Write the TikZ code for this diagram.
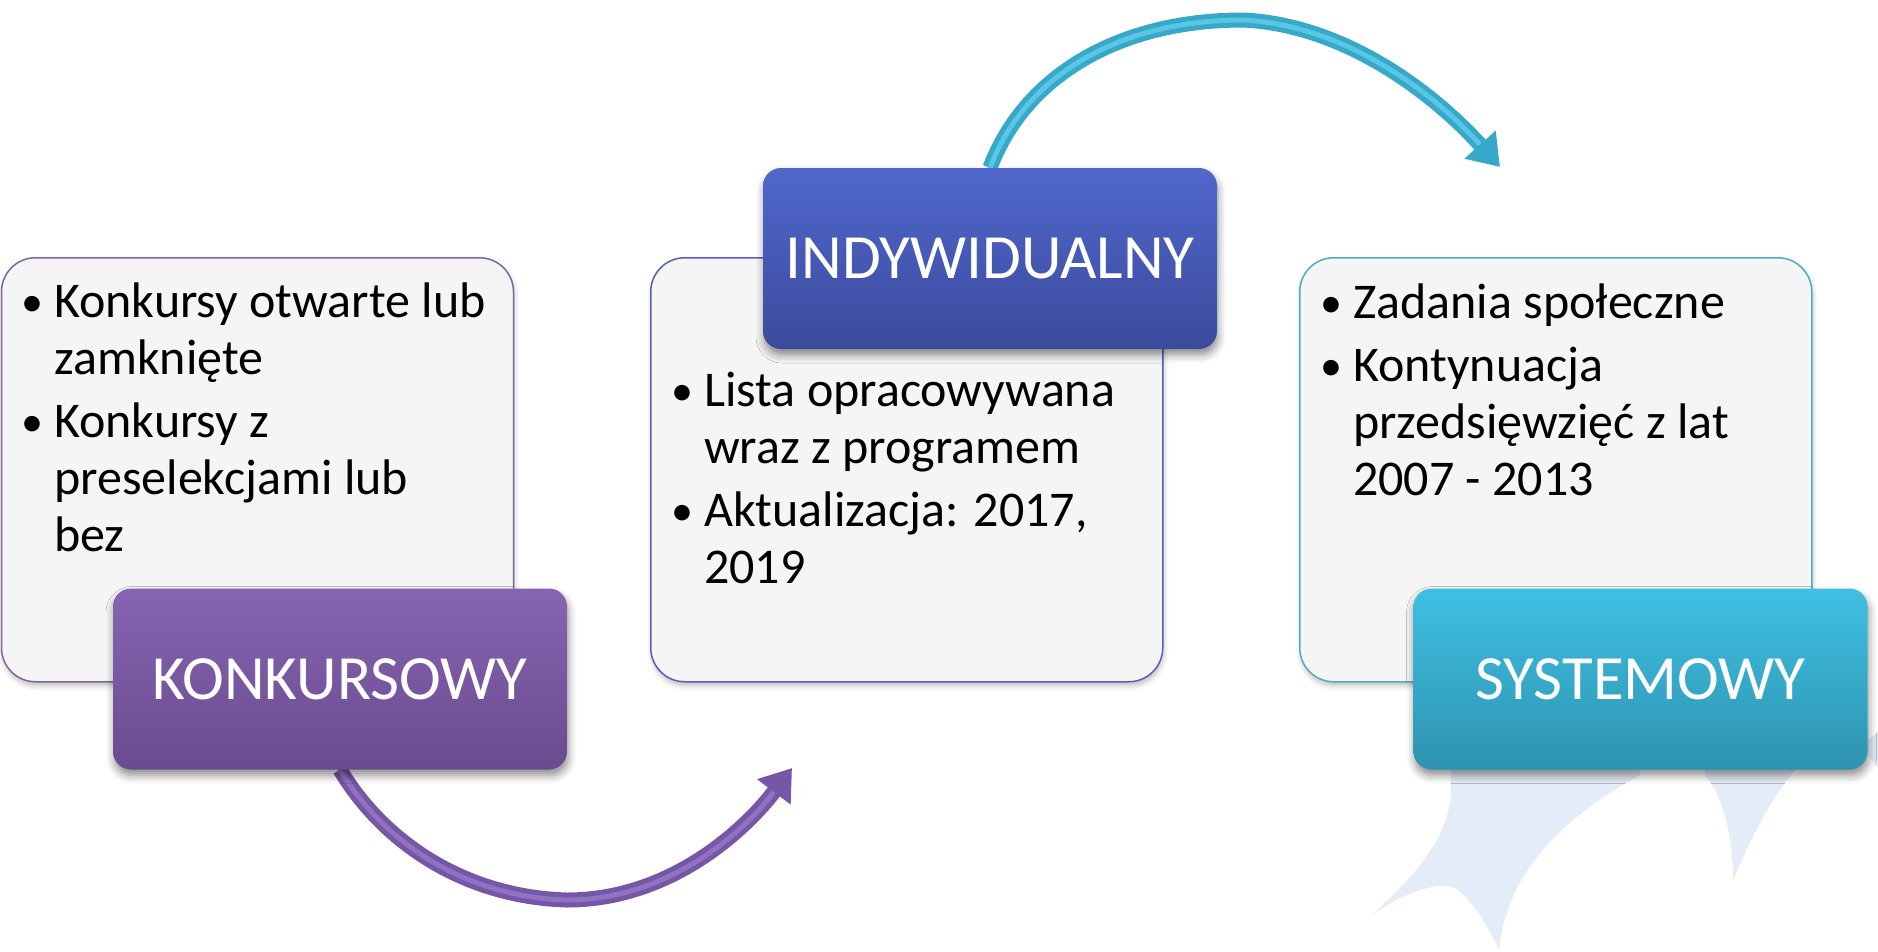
\documentclass[tikz,border=0pt]{standalone}
\usepackage{fontspec}
\setmainfont{Carlito}
\usetikzlibrary{arrows.meta,shadows.blur}

\definecolor{purpA}{HTML}{8764B3}
\definecolor{purpB}{HTML}{6A4B8E}
\definecolor{blueA}{HTML}{5067CC}
\definecolor{blueB}{HTML}{3B4A9B}
\definecolor{cyanA}{HTML}{3FC0E3}
\definecolor{cyanB}{HTML}{2E93B0}
\definecolor{purpEdge}{HTML}{8064A2}
\definecolor{blueEdge}{HTML}{5560B8}
\definecolor{cyanEdge}{HTML}{4BACC6}
\definecolor{boxfill}{HTML}{F5F5F5}
\definecolor{wmark}{HTML}{E3ECF7}
\definecolor{purpArrow}{HTML}{7656A6}
\definecolor{purpHi}{HTML}{9072C2}
\definecolor{cyanArrow}{HTML}{36A8C8}
\definecolor{cyanHi}{HTML}{58C6E4}

\newcommand{\bul}{\llap{\makebox[33pt][l]{\raisebox{1pt}{\fontsize{44}{44}\selectfont\textbullet}}}}

\pgfdeclarelayer{bg}
\pgfsetlayers{bg,main}

\begin{document}
\begin{tikzpicture}[x=1pt,y=-1pt,
  textbox/.style={draw=#1, line width=1.5pt, fill=boxfill, rounded corners=34pt,
    minimum width=512pt, minimum height=424pt, anchor=north west, inner sep=0pt,
    blur shadow={shadow xshift=1pt, shadow yshift=-4pt, shadow blur radius=5pt, shadow opacity=25}},
  titlebox/.style n args={2}{rounded corners=18pt, minimum width=454pt, minimum height=181pt,
    top color=#1, bottom color=#2, draw=none, text=white,
    font=\fontsize{63}{70}\selectfont, text height=40.6pt, text depth=0pt, inner sep=0pt,
    blur shadow={shadow xshift=1pt, shadow yshift=-6pt, shadow blur radius=8pt, shadow opacity=45}},
  bodytext/.style={font=\fontsize{50}{57}\selectfont, align=left, inner sep=0pt, anchor=base west, text=black},
  bigarrow/.style={line width=15pt, draw=#1, -{Triangle[length=30pt,width=40pt]}},
  arrowhi/.style={line width=5pt, draw=#1, shorten >=32pt, line cap=round}
]
\useasboundingbox (0,0) rectangle (1878,951);

% title boxes
\node[titlebox={purpA}{purpB}] (k) at (340,679) {KONKURSOWY};
\node[titlebox={blueA}{blueB}] (i) at (990,258.5) {INDYWIDUALNY};
\node[titlebox={cyanA}{cyanB}] (s) at (1640.5,679) {SYSTEMOWY};

% arrow end points
\coordinate (kb) at (567,900);
\coordinate (ke) at (792,768);
\coordinate (ib) at (1243,20);
\coordinate (ie) at (1500,167);

\begin{pgfonlayer}{bg}
  % faint watermark
  \fill[wmark] (1451,740) -- (1451,790) .. controls (1450,840) and (1410,880) .. (1372,915)
    .. controls (1400,895) and (1440,878) .. (1458,890)
    .. controls (1476,905) and (1490,930) .. (1499,950)
    .. controls (1505,890) and (1540,830) .. (1640,775) -- (1640,740) -- cycle;
  \fill[wmark] (1700,740) -- (1705,775) .. controls (1725,800) and (1733,840) .. (1733,880)
    .. controls (1750,840) and (1770,800) .. (1795,770) -- (1795,740) -- cycle;
  \fill[wmark] (1860,745) -- (1878,732) -- (1878,768) -- cycle;

  % text boxes
  \node[textbox=purpEdge] (b1) at (0.75,257) {};
  \node[textbox=blueEdge] (b2) at (650,257) {};
  \node[textbox=cyanEdge] (b3) at (1299,257) {};

  % arrows
  \draw[bigarrow=purpArrow] (k.south) .. controls (382,840) and (462,897) .. (kb)
    .. controls (670,900) and (745,830) .. (ke);
  \draw[arrowhi=purpHi] (k.south) .. controls (382,840) and (462,897) .. (kb)
    .. controls (670,900) and (745,830) .. (ke);
  \draw[bigarrow=cyanArrow] (i.north) .. controls (1025,75) and (1120,20) .. (ib)
    .. controls (1350,25) and (1440,100) .. (ie);
  \draw[arrowhi=cyanHi] (i.north) .. controls (1025,75) and (1120,20) .. (ib)
    .. controls (1350,25) and (1440,100) .. (ie);
\end{pgfonlayer}

% texts (anchored at the baseline of their last line)
\node[bodytext] (t1) at (54,551) {\bul Konkursy otwarte lub\\ zamknięte\\[6pt] \bul Konkursy z\\ preselekcjami lub\\ bez};
\node[bodytext] (t2) at (704,583) {\bul Lista opracowywana\\ wraz z programem\\[6pt] \bul Aktualizacja: 2017,\\ 2019};
\node[bodytext] (t3) at (1353,495) {\bul Zadania społeczne\\[6pt] \bul Kontynuacja\\ przedsięwzięć z lat\\ 2007 - 2013};
\end{tikzpicture}
\end{document}
